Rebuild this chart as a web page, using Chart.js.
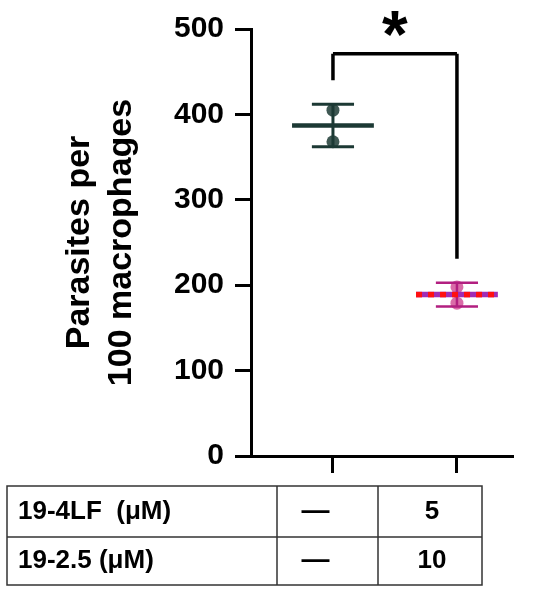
<!DOCTYPE html>
<html>
<head>
<meta charset="utf-8">
<script src="https://cdn.jsdelivr.net/npm/chart.js@4.4.1/dist/chart.umd.min.js"></script>
<style>
  html, body { margin: 0; padding: 0; background: #fff; }
  canvas { display: block; }
</style>
</head>
<body>
<canvas id="chart" width="550" height="601"></canvas>
<script>
// data
const groupX = [1, 2];
const group1Points = [405, 368];
const group2Points = [198, 179];
const groupMeans = [387, 189];
const groupSD = [25, 14];
const yTicks = [0, 100, 200, 300, 400, 500];
const sigBracket = [471, 440, 231]; // top, left leg end, right leg end
const sigLabel = "*";
const rowLabels = ["19-4LF  (μM)", "19-2.5 (μM)"];
const controlCol = ["—", "—"];
const treatedCol = ["5", "10"];

const FONT = "'Liberation Sans', Arial, sans-serif";
const CAP = 0.17;
const MEAN_W = 0.33;

function segs(list) {
  const out = [];
  list.forEach((s, i) => {
    if (i > 0) out.push({ x: s[0], y: null });
    out.push({ x: s[0], y: s[1] }, { x: s[2], y: s[3] });
  });
  return out;
}

function errorBar(i) {
  const x = groupX[i];
  const hi = groupMeans[i] + groupSD[i];
  const lo = groupMeans[i] - groupSD[i];
  return segs([
    [x, lo, x, hi],
    [x - CAP, hi, x + CAP, hi],
    [x - CAP, lo, x + CAP, lo],
  ]);
}

function meanLine(i) {
  const x = groupX[i];
  return segs([[x - MEAN_W, groupMeans[i], x + MEAN_W, groupMeans[i]]]);
}

function lineSet(data, color, width, extra) {
  return Object.assign({
    data: data,
    showLine: true,
    borderColor: color,
    borderWidth: width,
    pointRadius: 0,
    fill: false,
    spanGaps: false,
    borderCapStyle: "butt",
    clip: false,
  }, extra || {});
}

const tablePlugin = {
  id: "tableAndStar",
  afterDraw(chart) {
    const ctx = chart.ctx;
    const xs = chart.scales.x;
    const ys = chart.scales.y;
    ctx.save();

    // significance star
    ctx.fillStyle = "#000";
    ctx.font = "bold 66px " + FONT;
    ctx.textAlign = "center";
    ctx.textBaseline = "alphabetic";
    ctx.fillText(sigLabel, xs.getPixelForValue(1.5), ys.getPixelForValue(sigBracket[0]) + 3);

    // treatment table
    const left = 7, right = 482, top = 486, mid = 537, bottom = 585;
    const cols = [277, 378];
    ctx.strokeStyle = "#333";
    ctx.lineWidth = 1.5;
    ctx.strokeRect(left, top, right - left, bottom - top);
    ctx.beginPath();
    ctx.moveTo(left, mid); ctx.lineTo(right, mid);
    cols.forEach((c) => { ctx.moveTo(c, top); ctx.lineTo(c, bottom); });
    ctx.stroke();

    ctx.font = "bold 26px " + FONT;
    const rowCenters = [(top + mid) / 2, (mid + bottom) / 2];
    rowLabels.forEach((label, r) => {
      const base = rowCenters[r] + 7;
      ctx.textAlign = "left";
      ctx.fillText(label, 18, base);
      ctx.textAlign = "center";
      ctx.font = "bold 28px " + FONT;
      ctx.fillText(controlCol[r], (cols[0] + cols[1]) / 2 - 12, base);
      ctx.font = "bold 26px " + FONT;
      ctx.fillText(treatedCol[r], (cols[1] + right) / 2 + 2, base);
    });
    ctx.restore();
  },
};

const ctx = document.getElementById("chart").getContext("2d");
const myChart = new Chart(ctx, {
  type: "scatter",
  data: {
    datasets: [
      lineSet(segs([
        [groupX[0], sigBracket[1], groupX[0], sigBracket[0]],
        [groupX[0], sigBracket[0], groupX[1], sigBracket[0]],
        [groupX[1], sigBracket[0], groupX[1], sigBracket[2]],
      ]), "#000", 3.5, { order: 0, borderJoinStyle: "miter" }),
      lineSet(meanLine(0), "#1c3934", 4.5, { order: 1 }),
      lineSet(meanLine(1), "#ff1010", 5.5, { order: 1, borderDash: [6, 6] }),
      lineSet(meanLine(1), "#a02cb4", 5.5, { order: 2 }),
      lineSet(errorBar(0), "#1c3934", 3, { order: 3 }),
      lineSet(errorBar(1), "#b21f80", 2.5, { order: 3 }),
      {
        data: group1Points.map((v) => ({ x: groupX[0], y: v })),
        pointRadius: 6.5,
        backgroundColor: "#3f5853",
        borderWidth: 0,
        order: 4,
      },
      {
        data: group2Points.map((v) => ({ x: groupX[1], y: v })),
        pointRadius: 6.5,
        backgroundColor: "rgba(214, 92, 158, 0.9)",
        borderWidth: 0,
        order: 4,
      },
    ],
  },
  options: {
    responsive: false,
    animation: false,
    events: [],
    layout: { padding: { top: 25, right: 38, bottom: 0, left: 0 } },
    plugins: {
      legend: { display: false },
      tooltip: { enabled: false },
    },
    scales: {
      x: {
        type: "linear",
        min: 0.339,
        max: 2.444,
        afterBuildTicks: (s) => { s.ticks = groupX.map((v) => ({ value: v })); },
        afterFit: (s) => { s.height = 145; },
        border: { display: true, color: "#000", width: 3 },
        grid: { drawOnChartArea: false, drawTicks: true, tickLength: 17, color: "#000", lineWidth: 3 },
        ticks: { display: false },
      },
      y: {
        min: 0,
        max: 500,
        afterBuildTicks: (s) => { s.ticks = yTicks.map((v) => ({ value: v })); },
        afterFit: (s) => { s.width = 251; },
        border: { display: true, color: "#000", width: 3 },
        grid: { drawOnChartArea: false, drawTicks: true, tickLength: 16, color: "#000", lineWidth: 3 },
        ticks: {
          color: "#000",
          padding: 11,
          font: { family: FONT, size: 30, weight: "bold" },
        },
        title: {
          display: true,
          text: ["Parasites per", "100 macrophages"],
          color: "#000",
          padding: { top: 58, bottom: 0 },
          font: { family: FONT, size: 34, weight: "bold", lineHeight: 1.25 },
        },
      },
    },
  },
  plugins: [tablePlugin],
});
</script>
</body>
</html>
